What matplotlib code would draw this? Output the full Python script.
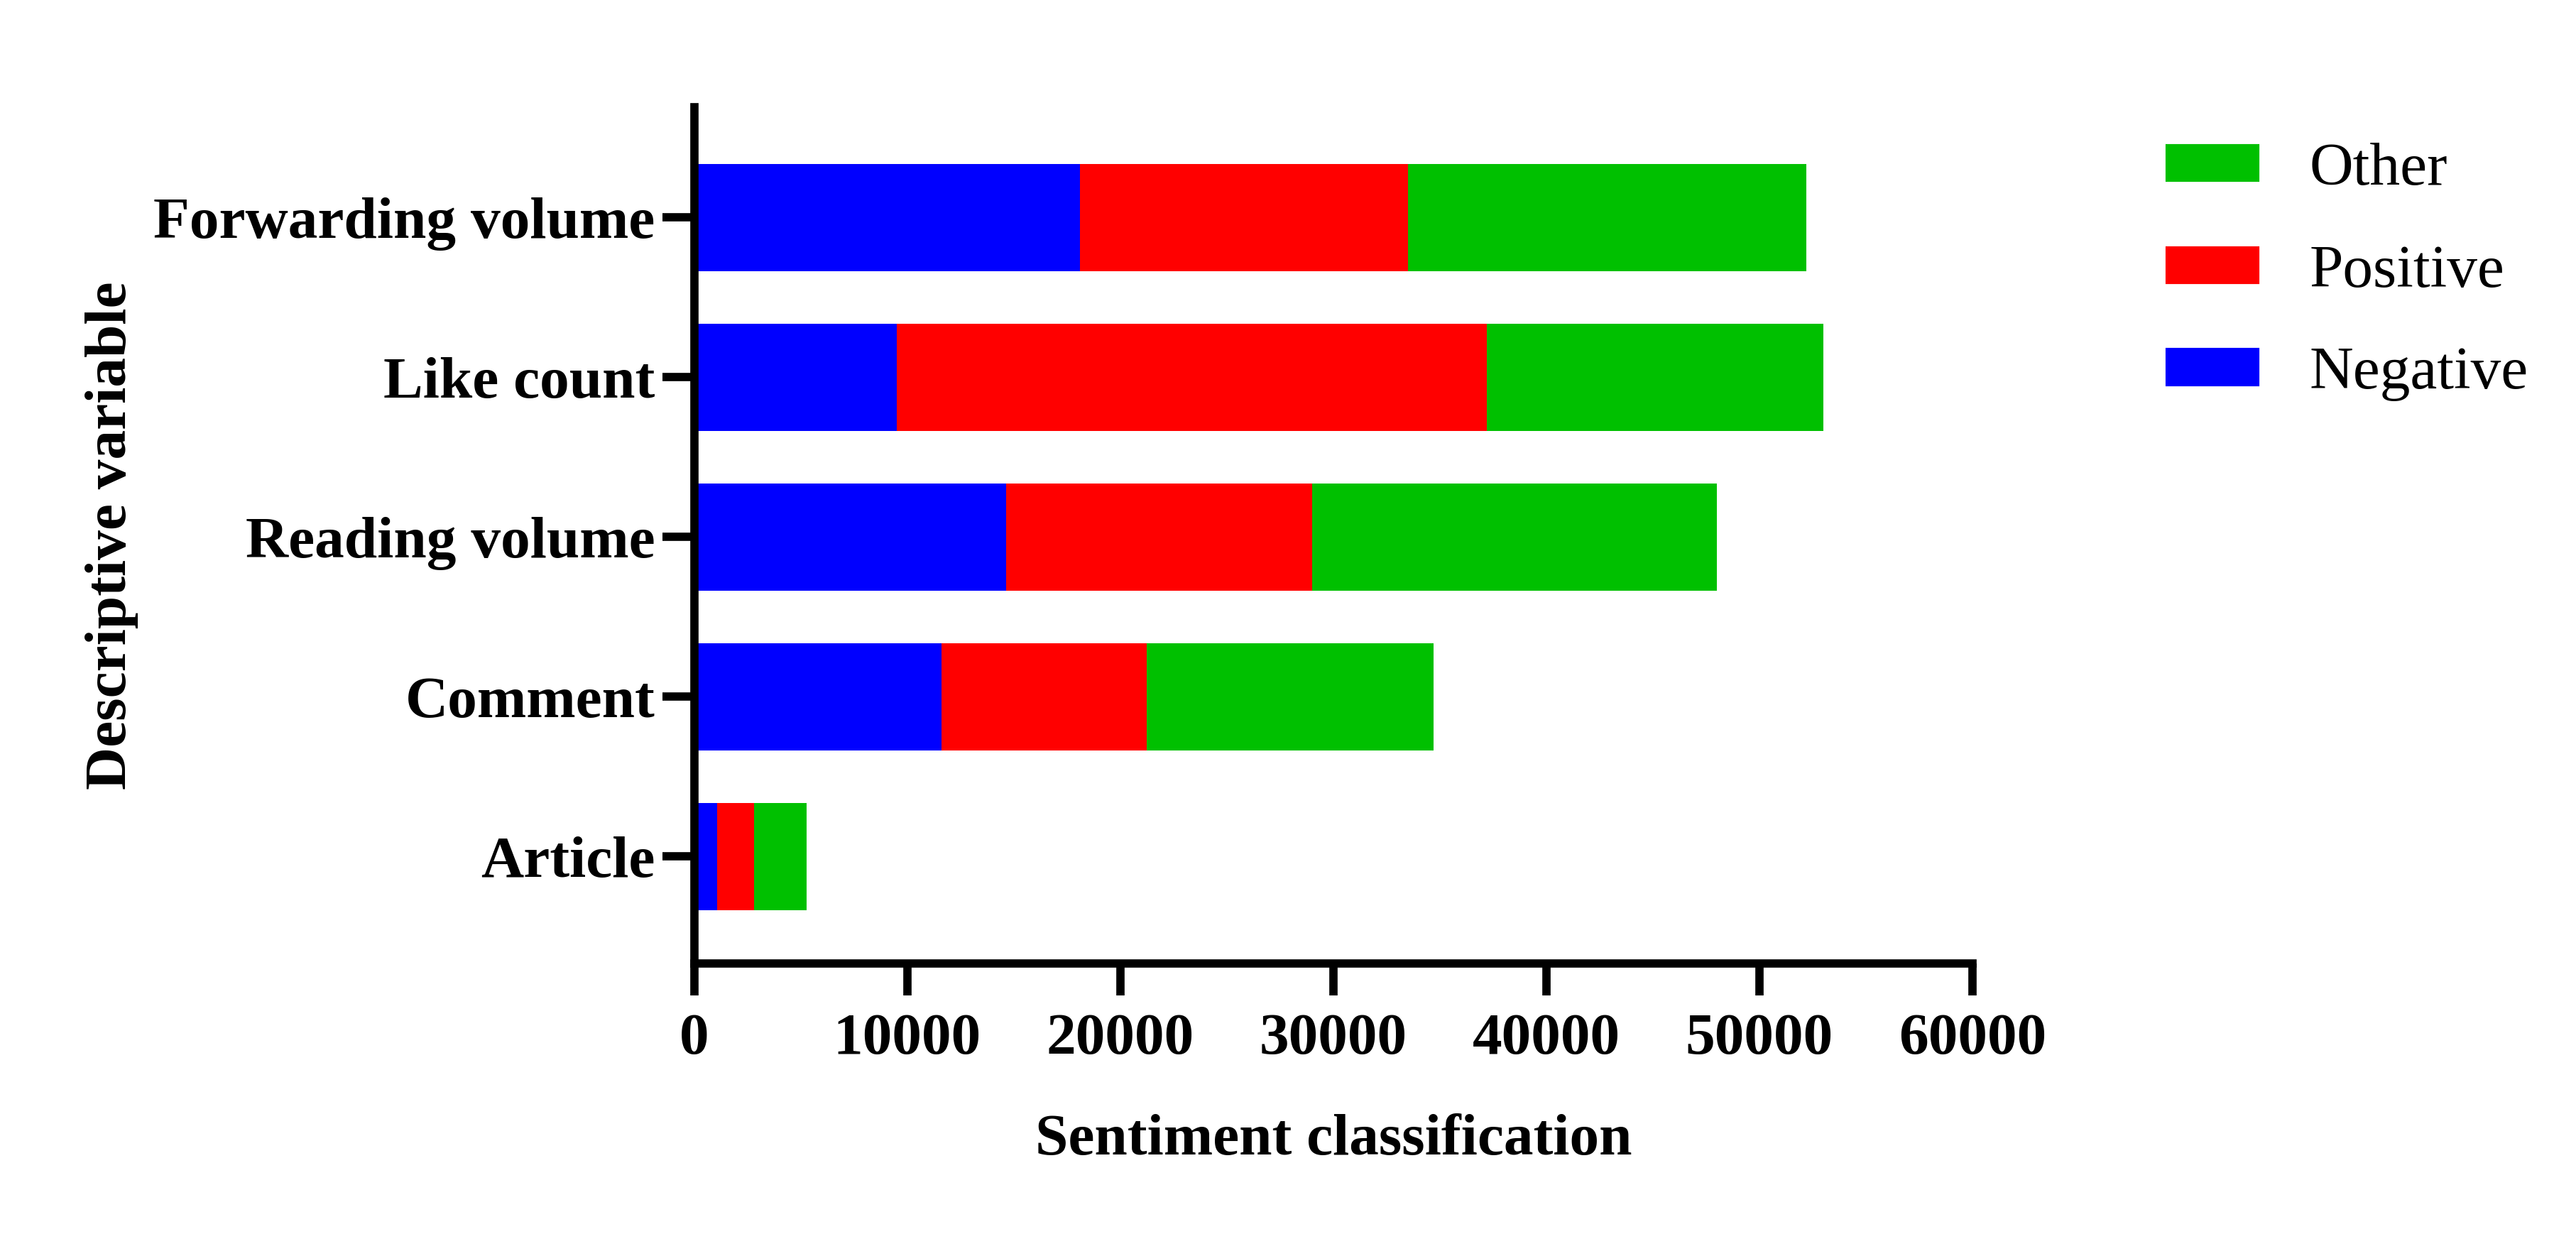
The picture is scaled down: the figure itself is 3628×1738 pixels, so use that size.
import matplotlib
matplotlib.use("Agg")
import matplotlib.pyplot as plt
from matplotlib.patches import Patch
import numpy as np

# Datos
variables = ["Article", "Comment", "Reading volume", "Like count", "Forwarding volume"]
negative = [1080, 11600, 14650, 9500, 18100]
positive = [1740, 9650, 14350, 27700, 15400]
other = [2470, 13450, 19000, 15800, 18700]

colores = {"Negative": "#0000FF", "Positive": "#FF0000", "Other": "#00C000"}

plt.rcParams["font.family"] = ["Liberation Serif", "DejaVu Serif"]

fig = plt.figure(figsize=(3628 / 300, 1738 / 300), dpi=300)
ax = fig.add_axes([977.5 / 3628, 1 - 1357 / 1738, (2778 - 977.5) / 3628, (1357 - 151) / 1738])

y = np.arange(len(variables))
neg = np.array(negative)
pos = np.array(positive)
oth = np.array(other)

ax.barh(y, neg, height=0.67, color=colores["Negative"], zorder=1)
ax.barh(y, pos, left=neg, height=0.67, color=colores["Positive"], zorder=1)
ax.barh(y, oth, left=neg + pos, height=0.67, color=colores["Other"], zorder=1)

ax.set_xlim(0, 60000)
ax.set_ylim(-0.67, 4.69)
ax.set_xticks([0, 10000, 20000, 30000, 40000, 50000, 60000])
ax.set_yticks(y)
ax.set_yticklabels(variables)

for s in ["top", "right"]:
    ax.spines[s].set_visible(False)
for s in ["left", "bottom"]:
    ax.spines[s].set_linewidth(2.8)
    ax.spines[s].set_zorder(3)

ax.tick_params(axis="both", width=2.8, length=10.8, labelsize=20)
ax.tick_params(axis="x", pad=6)
ax.tick_params(axis="y", pad=2.4)
for lbl in ax.get_xticklabels() + ax.get_yticklabels():
    lbl.set_fontweight("bold")

ax.set_xlabel("Sentiment classification", fontsize=20, fontweight="bold", labelpad=16)
ax.set_ylabel("Descriptive variable", fontsize=20, fontweight="bold", labelpad=5)

handles = [Patch(color=colores[k]) for k in ["Other", "Positive", "Negative"]]
fig.legend(handles, ["Other", "Positive", "Negative"], loc="upper left",
           bbox_to_anchor=(3052 / 3628, 1 - 201 / 1738), frameon=False,
           fontsize=20.5, handlelength=1.5, handleheight=0.515,
           handletextpad=0.85, labelspacing=0.78, borderpad=0, borderaxespad=0)

fig.savefig("out.png", dpi=300)
